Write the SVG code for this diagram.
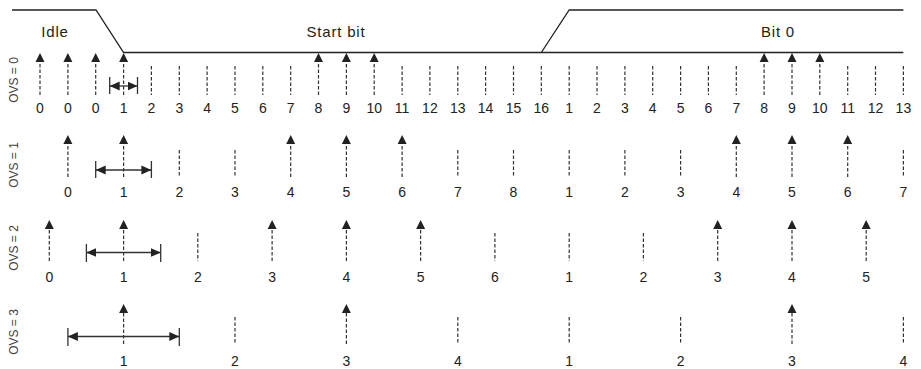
<svg xmlns="http://www.w3.org/2000/svg" width="921" height="369" viewBox="0 0 921 369">
<style>
text{font-family:"Liberation Sans",Arial,sans-serif;fill:#222}
.num{font-size:14px;text-anchor:middle}
.ttl{font-size:15px;text-anchor:middle;letter-spacing:0.8px}
.ovs{font-size:12px;text-anchor:middle;fill:#444}
.wave{fill:none;stroke:#222;stroke-width:1.3}
.smp{stroke:#333;stroke-width:1.2;stroke-dasharray:3.5 2;marker-end:url(#ah)}
.tick{stroke:#333;stroke-width:1.2;stroke-dasharray:3.5 2}
.dbl{stroke:#333;stroke-width:1.3;marker-start:url(#dh);marker-end:url(#dh)}
.bar{stroke:#333;stroke-width:1.3}
</style>
<defs>
<marker id="ah" markerUnits="userSpaceOnUse" viewBox="0 -5 10 10" refX="0" refY="0" markerWidth="10" markerHeight="10" orient="auto"><path d="M0,-4.5 L9,0 L0,4.5 z" fill="#222"/></marker>
<marker id="dh" markerUnits="userSpaceOnUse" viewBox="0 -5 11 10" refX="10" refY="0" markerWidth="11" markerHeight="10" orient="auto-start-reverse"><path d="M0,-4.5 L10,0 L0,4.5 z" fill="#222"/></marker>
</defs>

<g id="waveform">
<path class="wave" d="M12,10 H96 L123.6,52.5 H903.4 M541.3,52.5 L569.2,10 H903.4"/>
<text class="ttl" x="55" y="37">Idle</text>
<text class="ttl" x="336" y="37">Start bit</text>
<text class="ttl" x="778" y="37">Bit 0</text>
</g>

<g id="ovs0">
<text class="ovs" transform="translate(17.5,80) rotate(-90)">OVS = 0</text>
<g id="ovs0-samples">
<line class="smp" x1="40" y1="95" x2="40" y2="62"/>
<line class="smp" x1="67.9" y1="95" x2="67.9" y2="62"/>
<line class="smp" x1="95.7" y1="95" x2="95.7" y2="62"/>
<line class="smp" x1="123.6" y1="95" x2="123.6" y2="62"/>
<line class="tick" x1="151.4" y1="66" x2="151.4" y2="95"/>
<line class="tick" x1="179.3" y1="66" x2="179.3" y2="95"/>
<line class="tick" x1="207.1" y1="66" x2="207.1" y2="95"/>
<line class="tick" x1="235" y1="66" x2="235" y2="95"/>
<line class="tick" x1="262.8" y1="66" x2="262.8" y2="95"/>
<line class="tick" x1="290.7" y1="66" x2="290.7" y2="95"/>
<line class="smp" x1="318.5" y1="95" x2="318.5" y2="62"/>
<line class="smp" x1="346.4" y1="95" x2="346.4" y2="62"/>
<line class="smp" x1="374.2" y1="95" x2="374.2" y2="62"/>
<line class="tick" x1="402.1" y1="66" x2="402.1" y2="95"/>
<line class="tick" x1="429.9" y1="66" x2="429.9" y2="95"/>
<line class="tick" x1="457.8" y1="66" x2="457.8" y2="95"/>
<line class="tick" x1="485.6" y1="66" x2="485.6" y2="95"/>
<line class="tick" x1="513.5" y1="66" x2="513.5" y2="95"/>
<line class="tick" x1="541.3" y1="66" x2="541.3" y2="95"/>
<line class="tick" x1="569.2" y1="66" x2="569.2" y2="95"/>
<line class="tick" x1="597" y1="66" x2="597" y2="95"/>
<line class="tick" x1="624.9" y1="66" x2="624.9" y2="95"/>
<line class="tick" x1="652.7" y1="66" x2="652.7" y2="95"/>
<line class="tick" x1="680.6" y1="66" x2="680.6" y2="95"/>
<line class="tick" x1="708.4" y1="66" x2="708.4" y2="95"/>
<line class="tick" x1="736.3" y1="66" x2="736.3" y2="95"/>
<line class="smp" x1="764.1" y1="95" x2="764.1" y2="62"/>
<line class="smp" x1="792" y1="95" x2="792" y2="62"/>
<line class="smp" x1="819.8" y1="95" x2="819.8" y2="62"/>
<line class="tick" x1="847.7" y1="66" x2="847.7" y2="95"/>
<line class="tick" x1="875.5" y1="66" x2="875.5" y2="95"/>
<line class="tick" x1="903.4" y1="66" x2="903.4" y2="95"/>
</g>
<g id="ovs0-span">
<line class="bar" x1="109.7" y1="77" x2="109.7" y2="94"/>
<line class="bar" x1="137.5" y1="77" x2="137.5" y2="94"/>
<line class="dbl" x1="109.7" y1="86" x2="137.5" y2="86"/>
</g>
<g id="ovs0-labels">
<text class="num" x="40" y="112.5">0</text>
<text class="num" x="67.9" y="112.5">0</text>
<text class="num" x="95.7" y="112.5">0</text>
<text class="num" x="123.6" y="112.5">1</text>
<text class="num" x="151.4" y="112.5">2</text>
<text class="num" x="179.3" y="112.5">3</text>
<text class="num" x="207.1" y="112.5">4</text>
<text class="num" x="235" y="112.5">5</text>
<text class="num" x="262.8" y="112.5">6</text>
<text class="num" x="290.7" y="112.5">7</text>
<text class="num" x="318.5" y="112.5">8</text>
<text class="num" x="346.4" y="112.5">9</text>
<text class="num" x="374.2" y="112.5">10</text>
<text class="num" x="402.1" y="112.5">11</text>
<text class="num" x="429.9" y="112.5">12</text>
<text class="num" x="457.8" y="112.5">13</text>
<text class="num" x="485.6" y="112.5">14</text>
<text class="num" x="513.5" y="112.5">15</text>
<text class="num" x="541.3" y="112.5">16</text>
<text class="num" x="569.2" y="112.5">1</text>
<text class="num" x="597" y="112.5">2</text>
<text class="num" x="624.9" y="112.5">3</text>
<text class="num" x="652.7" y="112.5">4</text>
<text class="num" x="680.6" y="112.5">5</text>
<text class="num" x="708.4" y="112.5">6</text>
<text class="num" x="736.3" y="112.5">7</text>
<text class="num" x="764.1" y="112.5">8</text>
<text class="num" x="792" y="112.5">9</text>
<text class="num" x="819.8" y="112.5">10</text>
<text class="num" x="847.7" y="112.5">11</text>
<text class="num" x="875.5" y="112.5">12</text>
<text class="num" x="903.4" y="112.5">13</text>
</g>
</g>

<g id="ovs1">
<text class="ovs" transform="translate(17.5,165) rotate(-90)">OVS = 1</text>
<g id="ovs1-samples">
<line class="smp" x1="67.9" y1="177" x2="67.9" y2="144"/>
<line class="smp" x1="123.6" y1="177" x2="123.6" y2="144"/>
<line class="tick" x1="179.3" y1="150" x2="179.3" y2="177"/>
<line class="tick" x1="235" y1="150" x2="235" y2="177"/>
<line class="smp" x1="290.7" y1="177" x2="290.7" y2="144"/>
<line class="smp" x1="346.4" y1="177" x2="346.4" y2="144"/>
<line class="smp" x1="402.1" y1="177" x2="402.1" y2="144"/>
<line class="tick" x1="457.8" y1="150" x2="457.8" y2="177"/>
<line class="tick" x1="513.5" y1="150" x2="513.5" y2="177"/>
<line class="tick" x1="569.2" y1="150" x2="569.2" y2="177"/>
<line class="tick" x1="624.9" y1="150" x2="624.9" y2="177"/>
<line class="tick" x1="680.6" y1="150" x2="680.6" y2="177"/>
<line class="smp" x1="736.3" y1="177" x2="736.3" y2="144"/>
<line class="smp" x1="792" y1="177" x2="792" y2="144"/>
<line class="smp" x1="847.7" y1="177" x2="847.7" y2="144"/>
<line class="tick" x1="903.4" y1="150" x2="903.4" y2="177"/>
</g>
<g id="ovs1-span">
<line class="bar" x1="95.7" y1="161" x2="95.7" y2="178"/>
<line class="bar" x1="151.4" y1="161" x2="151.4" y2="178"/>
<line class="dbl" x1="95.7" y1="170" x2="151.4" y2="170"/>
</g>
<g id="ovs1-labels">
<text class="num" x="67.9" y="197">0</text>
<text class="num" x="123.6" y="197">1</text>
<text class="num" x="179.3" y="197">2</text>
<text class="num" x="235" y="197">3</text>
<text class="num" x="290.7" y="197">4</text>
<text class="num" x="346.4" y="197">5</text>
<text class="num" x="402.1" y="197">6</text>
<text class="num" x="457.8" y="197">7</text>
<text class="num" x="513.5" y="197">8</text>
<text class="num" x="569.2" y="197">1</text>
<text class="num" x="624.9" y="197">2</text>
<text class="num" x="680.6" y="197">3</text>
<text class="num" x="736.3" y="197">4</text>
<text class="num" x="792" y="197">5</text>
<text class="num" x="847.7" y="197">6</text>
<text class="num" x="903.4" y="197">7</text>
</g>
</g>

<g id="ovs2">
<text class="ovs" transform="translate(17.5,248) rotate(-90)">OVS = 2</text>
<g id="ovs2-samples">
<line class="smp" x1="49.3" y1="261" x2="49.3" y2="229"/>
<line class="smp" x1="123.6" y1="261" x2="123.6" y2="229"/>
<line class="tick" x1="197.8" y1="233" x2="197.8" y2="261"/>
<line class="smp" x1="272.1" y1="261" x2="272.1" y2="229"/>
<line class="smp" x1="346.4" y1="261" x2="346.4" y2="229"/>
<line class="smp" x1="420.6" y1="261" x2="420.6" y2="229"/>
<line class="tick" x1="494.9" y1="233" x2="494.9" y2="261"/>
<line class="tick" x1="569.2" y1="233" x2="569.2" y2="261"/>
<line class="tick" x1="643.4" y1="233" x2="643.4" y2="261"/>
<line class="smp" x1="717.7" y1="261" x2="717.7" y2="229"/>
<line class="smp" x1="792" y1="261" x2="792" y2="229"/>
<line class="smp" x1="866.2" y1="261" x2="866.2" y2="229"/>
</g>
<g id="ovs2-span">
<line class="bar" x1="86.4" y1="244" x2="86.4" y2="262"/>
<line class="bar" x1="160.7" y1="244" x2="160.7" y2="262"/>
<line class="dbl" x1="86.4" y1="252.5" x2="160.7" y2="252.5"/>
</g>
<g id="ovs2-labels">
<text class="num" x="49.3" y="282">0</text>
<text class="num" x="123.6" y="282">1</text>
<text class="num" x="197.8" y="282">2</text>
<text class="num" x="272.1" y="282">3</text>
<text class="num" x="346.4" y="282">4</text>
<text class="num" x="420.6" y="282">5</text>
<text class="num" x="494.9" y="282">6</text>
<text class="num" x="569.2" y="282">1</text>
<text class="num" x="643.4" y="282">2</text>
<text class="num" x="717.7" y="282">3</text>
<text class="num" x="792" y="282">4</text>
<text class="num" x="866.2" y="282">5</text>
</g>
</g>

<g id="ovs3">
<text class="ovs" transform="translate(17.5,332) rotate(-90)">OVS = 3</text>
<g id="ovs3-samples">
<line class="smp" x1="123.6" y1="344" x2="123.6" y2="313"/>
<line class="tick" x1="235" y1="317" x2="235" y2="344"/>
<line class="smp" x1="346.4" y1="344" x2="346.4" y2="313"/>
<line class="tick" x1="457.8" y1="317" x2="457.8" y2="344"/>
<line class="tick" x1="569.2" y1="317" x2="569.2" y2="344"/>
<line class="tick" x1="680.6" y1="317" x2="680.6" y2="344"/>
<line class="smp" x1="792" y1="344" x2="792" y2="313"/>
<line class="tick" x1="903.4" y1="317" x2="903.4" y2="344"/>
</g>
<g id="ovs3-span">
<line class="bar" x1="67.9" y1="328" x2="67.9" y2="346"/>
<line class="bar" x1="179.3" y1="328" x2="179.3" y2="346"/>
<line class="dbl" x1="67.9" y1="336.5" x2="179.3" y2="336.5"/>
</g>
<g id="ovs3-labels">
<text class="num" x="123.6" y="365.5">1</text>
<text class="num" x="235" y="365.5">2</text>
<text class="num" x="346.4" y="365.5">3</text>
<text class="num" x="457.8" y="365.5">4</text>
<text class="num" x="569.2" y="365.5">1</text>
<text class="num" x="680.6" y="365.5">2</text>
<text class="num" x="792" y="365.5">3</text>
<text class="num" x="903.4" y="365.5">4</text>
</g>
</g>
</svg>
